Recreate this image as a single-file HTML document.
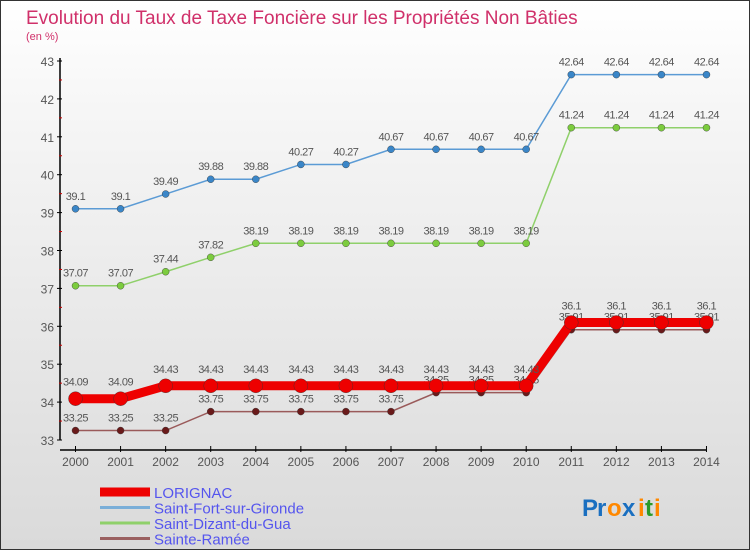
<!DOCTYPE html>
<html><head><meta charset="utf-8"><style>
body{margin:0;width:750px;height:550px;overflow:hidden;font-family:"Liberation Sans",sans-serif}
#wrap{position:absolute;left:0;top:0;width:748px;height:548px;border:1px solid #333;background:linear-gradient(#ffffff,#f6f6f6 20%,#dadada)}
</style></head><body>
<div id="wrap">
<svg id="chart" width="750" height="550" style="position:absolute;left:-1px;top:-1px"></svg>
</div>
<script>
const years=["2000","2001","2002","2003","2004","2005","2006","2007","2008","2009","2010","2011","2012","2013","2014"];
const yTicks=[33,34,35,36,37,38,39,40,41,42,43];
const lorignac=[34.09,34.09,34.43,34.43,34.43,34.43,34.43,34.43,34.43,34.43,34.43,36.1,36.1,36.1,36.1];
const saintFort=[39.1,39.1,39.49,39.88,39.88,40.27,40.27,40.67,40.67,40.67,40.67,42.64,42.64,42.64,42.64];
const saintDizant=[37.07,37.07,37.44,37.82,38.19,38.19,38.19,38.19,38.19,38.19,38.19,41.24,41.24,41.24,41.24];
const sainteRamee=[33.25,33.25,33.25,33.75,33.75,33.75,33.75,33.75,34.25,34.25,34.25,35.91,35.91,35.91,35.91];
const NS="http://www.w3.org/2000/svg";
const svg=document.getElementById('chart');
const x=i=>75.5+i*45.07;
const y=v=>440-(v-33)*37.9;
function mk(t,a,p){const e=document.createElementNS(NS,t);for(const k in a)e.setAttribute(k,a[k]);(p||svg).appendChild(e);return e;}
function txt(s,a){const e=mk('text',a);e.textContent=s;return e;}
let t=txt("Evolution du Taux de Taxe Foncière sur les Propriétés Non Bâties",{x:26,y:24,fill:"#d0306a","font-size":19});

t=txt("(en %)",{x:26,y:40,fill:"#d0306a","font-size":11});

let ax=mk('path',{d:"M60,58V440M60,450H706",stroke:"#000","stroke-width":1.5,fill:"none"});

yTicks.forEach(v=>{mk('line',{x1:57,x2:62,y1:y(v),y2:y(v),stroke:"#000"});
 if(v<43)mk('line',{x1:59,x2:62,y1:y(v+0.5),y2:y(v+0.5),stroke:"#c00"});
 const l=txt(String(v),{x:54,y:y(v)+5,"text-anchor":"end","font-size":12,fill:"#555"});
 });
years.forEach((yr,i)=>{mk('line',{x1:x(i),x2:x(i),y1:446,y2:452,stroke:"#000"});
 const l=txt(yr,{x:x(i),y:466,"text-anchor":"middle","font-size":12,fill:"#555"});
 });
function series(data,color,w,r,dot,name,dy){
 const g=mk('g',{});
 mk('polyline',{points:data.map((v,i)=>x(i)+","+y(v)).join(" "),fill:"none",stroke:color,"stroke-width":w},g);
 data.forEach((v,i)=>{const c=mk('circle',{cx:x(i),cy:y(v),r:r,fill:dot,stroke:"#333","stroke-width":0.4},g);
  
  const l=txt(String(v),{x:x(i),y:y(v)-dy,"text-anchor":"middle","font-size":11,fill:"#555","letter-spacing":"-0.5"});g.appendChild(l);});
}
series(saintFort,"#5b9bd5",1.5,3.5,"#3a86c8","saint-fort-series",9);
series(saintDizant,"#8fd06a",1.5,3.5,"#7ccc3e","saint-dizant-series",9);
series(sainteRamee,"#9a5a5a",1.5,3.5,"#6a1a1a","sainte-ramee-series",9);
series(lorignac,"#ee0000",9,7,"#ee0000","lorignac-series",13);
const leg=[["LORIGNAC","#ee0000",9],["Saint-Fort-sur-Gironde","#7aaed8",3],["Saint-Dizant-du-Gua","#8fd06a",3],["Sainte-Ramée","#9a6060",3]];
leg.forEach((e,i)=>{const g=mk('g',{});
 const yy=492+i*15.5;mk('line',{x1:100,x2:150,y1:yy,y2:yy,stroke:e[1],"stroke-width":e[2]},g);
 const l=txt(e[0],{x:154,y:yy+6,"font-size":15,fill:"#5555ee"});g.appendChild(l);});
const lg=mk('g',{});
[["P","#1a6fc0"],["r","#1a6fc0"],["o","#ff8800"],["x","#1a6fc0"],["i","#ff8800"],["t","#2a9a2a"],["i","#ff8800"]].forEach((c,i)=>{
 const l=txt(c[0],{x:582+[0,15,25,40,56,63,72][i],y:516,"font-size":24,"font-weight":"bold",fill:c[1]});lg.appendChild(l);});
</script>
</body></html>
